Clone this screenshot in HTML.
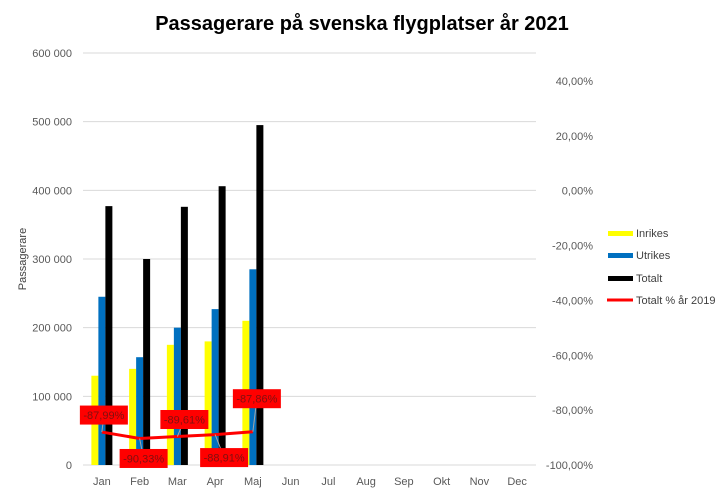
<!DOCTYPE html>
<html><head><meta charset="utf-8"><style>
body{margin:0;background:#fff;}
svg{display:block;font-family:"Liberation Sans",sans-serif;}
</style></head><body>
<svg id="c" width="726" height="490" xmlns="http://www.w3.org/2000/svg">
<text x="362" y="30" text-anchor="middle" font-size="20" font-weight="bold" fill="#000">Passagerare på svenska flygplatser år 2021</text>
<text transform="translate(26,259) rotate(-90)" text-anchor="middle" font-size="11" fill="#404040">Passagerare</text>
<g id="grid"></g><g id="bars"></g><g id="line"></g><g id="labels"></g><g id="axes"></g>
<g font-size="11" fill="#404040">
<rect x="608" y="231" width="25" height="5" fill="#ffff00"/><text x="636" y="237">Inrikes</text>
<rect x="608" y="253" width="25" height="5" fill="#0070c0"/><text x="636" y="259">Utrikes</text>
<rect x="608" y="276" width="25" height="5" fill="#000"/><text x="636" y="282">Totalt</text>
<line x1="607" y1="300" x2="633" y2="300" stroke="#ff0000" stroke-width="3"/><text x="636" y="304">Totalt % år 2019</text>
</g>
</svg>
<script>
const categories=["Jan","Feb","Mar","Apr","Maj","Jun","Jul","Aug","Sep","Okt","Nov","Dec"];
const inrikes=[130000,140000,175000,180000,210000];
const utrikes=[245000,157000,200000,227000,285000];
const totalt=[377000,300000,376000,406000,495000];
const pct=[-87.99,-90.33,-89.61,-88.91,-87.86];
const pctLabels=["-87,99%","-90,33%","-89,61%","-88,91%","-87,86%"];
const leftTicks=[0,100000,200000,300000,400000,500000,600000];
const leftTickLabels=["0","100 000","200 000","300 000","400 000","500 000","600 000"];
const rightTicks=[-100,-80,-60,-40,-20,0,20,40];
const rightTickLabels=["-100,00%","-80,00%","-60,00%","-40,00%","-20,00%","0,00%","20,00%","40,00%"];

const NS="http://www.w3.org/2000/svg";
const X0=83,X1=536,Y0=465,Y1=53;
const band=(X1-X0)/categories.length;
const xc=i=>X0+band*(i+0.5);
const yL=v=>Y0-(v/600000)*(Y0-Y1);
const yR=v=>Y0-((v+100)/140)*(Y0-81);
function mk(tag,attrs,parent,text){const e=document.createElementNS(NS,tag);for(const k in attrs)e.setAttribute(k,attrs[k]);if(text!==undefined)e.textContent=text;document.getElementById(parent).appendChild(e);return e;}

leftTicks.forEach((t,i)=>{
  const g=mk('line',{x1:X0,x2:X1,y1:yL(t),y2:yL(t),stroke:'#d9d9d9','stroke-width':1},'grid');
  
  
  const l=mk('text',{x:72,y:yL(t)+4,'text-anchor':'end','font-size':11,fill:'#595959'},'axes',leftTickLabels[i]);
  
  
});
rightTicks.forEach((t,i)=>{
  const l=mk('text',{x:593,y:yR(t)+4,'text-anchor':'end','font-size':11,fill:'#595959'},'axes',rightTickLabels[i]);
  
  
});
categories.forEach((c,i)=>{
  const l=mk('text',{x:xc(i),y:485,'text-anchor':'middle','font-size':11,fill:'#595959'},'axes',c);
  
  
});
const bw=7;
const series=[[inrikes,'#ffff00','bar-inrikes'],[utrikes,'#0070c0','bar-utrikes'],[totalt,'#000000','bar-totalt']];
series.forEach(([vals,col,name],s)=>{
  vals.forEach((v,i)=>{
    const x=xc(i)-1.5*bw+s*bw;
    const r=mk('rect',{x:x,y:yL(v),width:bw,height:Y0-yL(v),fill:col},'bars');
    
    
  });
});
const pts=pct.map((v,i)=>xc(i)+','+yR(v)).join(' ');
const pl=mk('polyline',{points:pts,fill:'none',stroke:'#ff0000','stroke-width':3,'stroke-linejoin':'round'},'line');


const dxs=[2,4,7,9,4];
const dys=[-17,20,-17,23,-33];
pct.forEach((v,i)=>{
  const cx=xc(i)+dxs[i];
  const cy=yR(v)+dys[i];
  const ld=mk('line',{x1:xc(i),y1:yR(v),x2:cx,y2:cy,stroke:'#a6a6a6','stroke-width':1},'labels');
  
  
  const r=mk('rect',{x:cx-24,y:cy-9.5,width:48,height:19,fill:'#ff0000'},'labels');
  
  
  const t=mk('text',{x:cx,y:cy+4,'text-anchor':'middle','font-size':11,fill:'#7f1010'},'labels',pctLabels[i]);
  
  
});
</script>
</body></html>
